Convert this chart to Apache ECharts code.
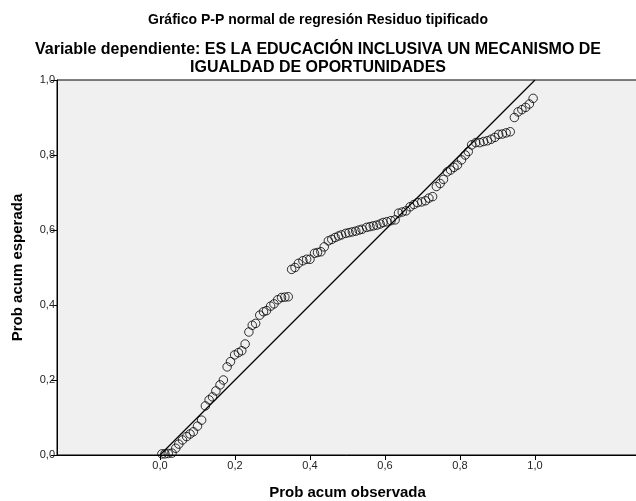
<!DOCTYPE html>
<html>
<head>
<meta charset="utf-8">
<script src="https://cdn.jsdelivr.net/npm/echarts@6/dist/echarts.min.js"></script>
<style>html,body{margin:0;padding:0;background:#fff}#c{width:636px;height:501px}</style>
</head>
<body>
<div id="c"></div>
<script>
const titleText = 'Gráfico P-P normal de regresión Residuo tipificado';
const subtitleText = 'Variable dependiente: ES LA EDUCACIÓN INCLUSIVA UN MECANISMO DE\nIGUALDAD DE OPORTUNIDADES';
const xAxisName = 'Prob acum observada';
const yAxisName = 'Prob acum esperada';
const tickValues = [0, 0.2, 0.4, 0.6, 0.8, 1.0];

const obsX = [0.005,0.013,0.022,0.032,0.042,0.050,0.060,0.071,0.080,0.089,
  0.100,0.111,0.121,0.131,0.140,0.149,0.160,0.169,0.179,0.188,
  0.199,0.209,0.218,0.227,0.237,0.246,0.255,0.266,0.276,0.284,
  0.295,0.304,0.314,0.324,0.333,0.342,0.351,0.360,0.369,0.381,
  0.391,0.400,0.412,0.420,0.429,0.438,0.449,0.458,0.467,0.476,
  0.484,0.495,0.504,0.513,0.522,0.531,0.539,0.551,0.560,0.569,
  0.578,0.587,0.595,0.605,0.616,0.627,0.636,0.646,0.656,0.667,
  0.677,0.687,0.698,0.708,0.717,0.727,0.737,0.747,0.756,0.766,
  0.775,0.784,0.793,0.804,0.814,0.822,0.831,0.842,0.853,0.863,
  0.873,0.883,0.893,0.903,0.913,0.923,0.934,0.945,0.955,0.965,
  0.975,0.985,0.995];
const expY = [0.003,0.003,0.004,0.005,0.018,0.029,0.040,0.049,0.056,0.062,
  0.077,0.093,0.131,0.147,0.155,0.171,0.187,0.200,0.235,0.249,
  0.267,0.273,0.278,0.296,0.328,0.346,0.351,0.373,0.382,0.385,
  0.397,0.403,0.414,0.420,0.421,0.422,0.495,0.500,0.511,0.518,
  0.522,0.522,0.538,0.540,0.542,0.555,0.571,0.575,0.580,0.584,
  0.587,0.591,0.593,0.595,0.597,0.600,0.602,0.607,0.609,0.611,
  0.613,0.616,0.620,0.622,0.625,0.627,0.645,0.648,0.651,0.662,
  0.668,0.673,0.675,0.678,0.685,0.689,0.716,0.724,0.735,0.755,
  0.760,0.767,0.773,0.787,0.800,0.809,0.827,0.833,0.833,0.836,
  0.838,0.842,0.847,0.855,0.856,0.859,0.862,0.900,0.915,0.921,
  0.927,0.936,0.951];
const refLine = [[0, 0], [1, 1]];

const points = obsX.map((x, i) => [x, expY[i]]);
const fmt = v => v.toFixed(1).replace('.', ',');
const font = 'Arial, "Liberation Sans", sans-serif';

const chart = echarts.init(document.getElementById('c'), null, {renderer: 'canvas'});
chart.setOption({
  animation: false,
  backgroundColor: '#ffffff',
  title: [
    {text: titleText, left: 'center', top: 8,
     textStyle: {fontFamily: font, fontSize: 14, fontWeight: 'bold', color: '#000'}},
    {text: subtitleText, left: 'center', top: 36,
     textStyle: {fontFamily: font, fontSize: 16, fontWeight: 'bold', color: '#000', lineHeight: 18, align: 'center'}}
  ],
  grid: {left: 57, right: -2, top: 80, bottom: 46, show: true, containLabel: false,
         outerBoundsMode: 'none',
         backgroundColor: '#f0f0f0', borderColor: '#000', borderWidth: 1},
  xAxis: {
    type: 'value', min: -0.27467, max: 1.27467,
    name: xAxisName, nameLocation: 'middle', nameGap: 30,
    nameTextStyle: {fontFamily: font, fontSize: 15, fontWeight: 'bold', color: '#000'},
    splitLine: {show: false},
    axisLine: {show: true, onZero: false, lineStyle: {color: '#000', width: 1}},
    axisTick: {show: true, customValues: tickValues, length: 5, lineStyle: {color: '#000'}},
    axisLabel: {customValues: tickValues, formatter: fmt, margin: 5,
                fontFamily: font, fontSize: 11, color: '#222'}
  },
  yAxis: {
    type: 'value', min: 0, max: 1, interval: 0.2,
    name: yAxisName, nameLocation: 'middle', nameGap: 32,
    nameTextStyle: {fontFamily: font, fontSize: 15, fontWeight: 'bold', color: '#000'},
    splitLine: {show: false},
    axisLine: {show: true, onZero: false, lineStyle: {color: '#000', width: 1}},
    axisTick: {show: true, length: 6, lineStyle: {color: '#000'}},
    axisLabel: {formatter: fmt, margin: 2, fontFamily: font, fontSize: 11, color: '#222'}
  },
  series: [
    {type: 'line', data: refLine, symbol: 'none', silent: true,
     lineStyle: {color: '#000', width: 1.2}},
    {type: 'scatter', data: points, symbol: 'circle', symbolSize: 8.5,
     itemStyle: {color: 'rgba(0,0,0,0)', borderColor: '#000', borderWidth: 1}}
  ]
});
</script>
</body>
</html>
